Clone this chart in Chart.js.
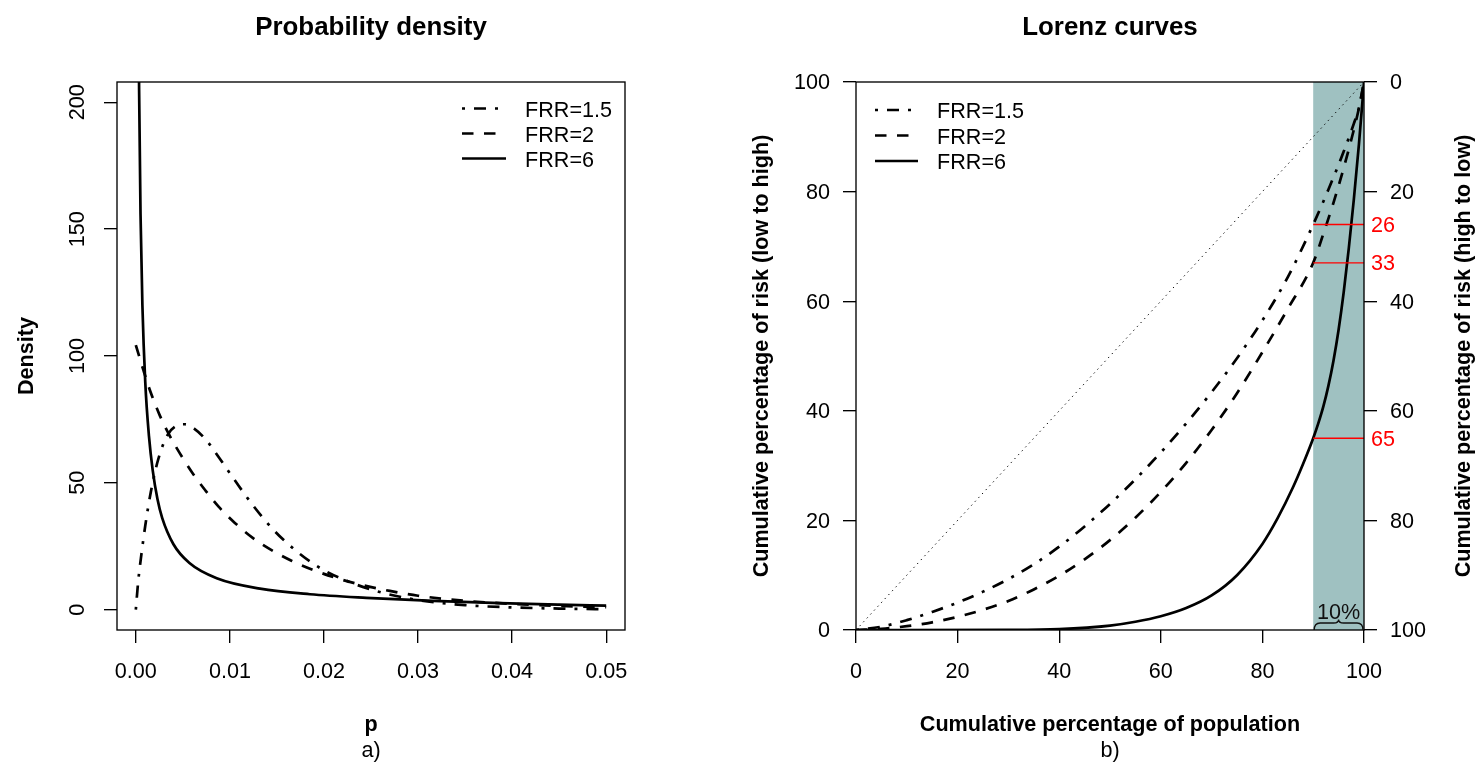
<!DOCTYPE html>
<html lang="en">
<head>
<meta charset="UTF-8">
<title>Probability density / Lorenz curves</title>
<script src="https://cdn.jsdelivr.net/npm/chart.js"></script>
<style>
  body { margin: 0; background: #fff; }
  #wrap { position: relative; width: 1480px; height: 768px; }
  canvas { position: absolute; top: 0; }
</style>
</head>
<body>
<div id="wrap">
  <canvas id="densChart" width="740" height="768" style="left:0"></canvas>
  <canvas id="lorenzChart" width="740" height="768" style="left:740px"></canvas>
</div>
<script>
// ---------- a) probability density (values read off the figure)
const frrLabels = ['FRR=1.5', 'FRR=2', 'FRR=6'];

const p15 = [0, 0.00025, 0.0006, 0.001, 0.0016, 0.0024, 0.0034, 0.0044, 0.0052, 0.0062, 0.0075, 0.0088, 0.0106, 0.0125, 0.0146, 0.0171, 0.0196, 0.022, 0.0255, 0.03, 0.035, 0.04, 0.045, 0.05];
const dens15 = [0, 11, 22, 33, 46.5, 59.5, 69.0, 72.6, 73.1, 71.4, 66.8, 60.2, 50.6, 40.9, 31.6, 23.0, 16.4, 12.0, 7.4, 3.8, 1.8, 0.9, 0.45, 0.2];

const p2 = [0, 0.0008, 0.0015, 0.0025, 0.0035, 0.0047, 0.006, 0.0074, 0.0088, 0.0105, 0.0125, 0.0146, 0.0166, 0.0189, 0.0214, 0.024, 0.027, 0.03, 0.035, 0.04, 0.045, 0.05];
const dens2 = [104.3, 94.5, 86.5, 77.0, 69.3, 61.5, 54.0, 47.0, 40.6, 34.3, 28.1, 23.1, 19.2, 15.6, 12.4, 9.8, 7.4, 5.5, 3.5, 2.3, 1.5, 1.0];

const p6 = [0.0003, 0.00035, 0.0005, 0.0007, 0.001, 0.0014, 0.0018, 0.0023, 0.0028, 0.004, 0.0057, 0.0086, 0.0132, 0.0185, 0.0245, 0.0316, 0.0387, 0.045, 0.05];
const dens6 = [230, 205, 156, 120, 90, 68.3, 54.8, 43.6, 36.2, 25.8, 18.4, 12.4, 8.3, 6.1, 4.7, 3.5, 2.6, 2.0, 1.6];

const densXTicks = [0, 0.01, 0.02, 0.03, 0.04, 0.05];
const densYTicks = [0, 50, 100, 150, 200];

// ---------- b) Lorenz curves
const pop15 = [0, 5, 10, 15, 20, 25, 30, 35, 40, 45, 50, 55, 60, 65, 70, 75, 80, 85, 90, 93, 96, 98, 99, 100];
const risk15 = [0, 0.6, 1.8, 3.3, 5.0, 7.0, 9.3, 12.0, 15.2, 18.9, 23.0, 27.5, 32.4, 37.7, 43.4, 49.6, 56.5, 64.4, 74.0, 80.4, 87.3, 92.4, 95.3, 100];

const pop2 = [0, 5, 10, 15, 20, 25, 30, 35, 40, 45, 50, 55, 60, 65, 70, 75, 80, 85, 90, 92, 94, 96, 98, 99, 100];
const risk2 = [0, 0.2, 0.7, 1.4, 2.4, 3.7, 5.3, 7.4, 9.9, 12.9, 16.4, 20.5, 25.2, 30.5, 36.5, 43.2, 50.7, 58.6, 67.0, 72.3, 78.0, 84.3, 91.3, 95.2, 100];

const pop6 = [0, 30, 40, 50, 55, 60, 65, 70, 75, 80, 83, 86, 88, 90, 91, 92, 93, 94, 95, 96, 97, 98, 99, 100];
const risk6 = [0, 0.02, 0.15, 0.8, 1.5, 2.5, 4.0, 6.3, 10.0, 15.7, 20.4, 26.0, 30.3, 35.0, 37.7, 40.8, 44.6, 49.2, 54.8, 61.6, 69.6, 78.6, 88.6, 100];

const diagX = [0, 100];
const diagY = [0, 100];
const pctTicks = [0, 20, 40, 60, 80, 100];
const topShare = [26, 33, 65];   // share of risk held by the top 10%
const shadeFrom = 90;
const shadeTo = 100;

// ---------- common style
const FONT = '"Liberation Sans", Arial, sans-serif';
const BASE = 21.6;
Chart.defaults.font.family = FONT;
Chart.defaults.font.size = BASE;
Chart.defaults.color = '#000';

const dashes = [[3, 9, 12, 9], [11.5, 10.5], []];

function curve(xs, ys, i) {
  return {
    label: frrLabels[i],
    data: xs.map((x, k) => ({ x: x, y: ys[k] })),
    borderColor: '#000',
    borderWidth: 2.7,
    borderDash: dashes[i],
    pointRadius: 0,
    cubicInterpolationMode: 'monotone',
    fill: false,
    order: 1
  };
}

function axisGrid() {
  return { drawOnChartArea: false, drawTicks: true, tickLength: 13, color: '#000', lineWidth: 1.35 };
}

function rotText(ctx, txt, x, y) {
  ctx.save();
  ctx.translate(x, y);
  ctx.rotate(-Math.PI / 2);
  ctx.fillText(txt, 0, 0);
  ctx.restore();
}

function drawLegend(ctx, x0, x1, tx, rows) {
  ctx.save();
  ctx.strokeStyle = '#000';
  ctx.lineWidth = 2.7;
  ctx.font = BASE + 'px ' + FONT;
  ctx.textAlign = 'left';
  ctx.textBaseline = 'alphabetic';
  frrLabels.forEach((lab, i) => {
    ctx.setLineDash(dashes[i]);
    ctx.beginPath();
    ctx.moveTo(x0, rows[i]);
    ctx.lineTo(x1, rows[i]);
    ctx.stroke();
    ctx.fillText(lab, tx, rows[i] + 8);
  });
  ctx.restore();
}

function frame(ctx, a) {
  ctx.save();
  ctx.strokeStyle = '#000';
  ctx.lineWidth = 1.35;
  ctx.strokeRect(a.left, a.top, a.right - a.left, a.bottom - a.top);
  ctx.restore();
}

function titles(ctx, cx, main, xlab, tag) {
  ctx.save();
  ctx.fillStyle = '#000';
  ctx.textAlign = 'center';
  ctx.textBaseline = 'alphabetic';
  ctx.font = 'bold 25.9px ' + FONT;
  ctx.fillText(main, cx, 35);
  ctx.font = 'bold ' + BASE + 'px ' + FONT;
  ctx.fillText(xlab, cx, 731);
  ctx.font = BASE + 'px ' + FONT;
  ctx.fillText(tag, cx, 757);
  ctx.restore();
}

// ---------- chart a)
const densDecor = {
  id: 'densDecor',
  afterDraw(chart) {
    const { ctx, chartArea: a } = chart;
    frame(ctx, a);
    titles(ctx, (a.left + a.right) / 2, 'Probability density', 'p', 'a)');
    ctx.save();
    ctx.fillStyle = '#000';
    ctx.textAlign = 'center';
    ctx.font = 'bold ' + BASE + 'px ' + FONT;
    rotText(ctx, 'Density', 33, (a.top + a.bottom) / 2);
    ctx.restore();
    drawLegend(ctx, 462, 506, 525, [108.5, 133.5, 158.5]);
  }
};

new Chart(document.getElementById('densChart'), {
  type: 'line',
  data: {
    datasets: [curve(p15, dens15, 0), curve(p2, dens2, 1), curve(p6, dens6, 2)]
  },
  options: {
    responsive: false,
    animation: false,
    devicePixelRatio: 1,
    layout: { padding: { top: 82, right: 115, left: 0, bottom: 0 } },
    plugins: { legend: { display: false }, tooltip: { enabled: false } },
    scales: {
      x: {
        type: 'linear',
        min: -0.002,
        max: 0.052,
        afterBuildTicks: s => { s.ticks = densXTicks.map(v => ({ value: v })); },
        afterFit: s => { s.height = 138; },
        grid: axisGrid(),
        border: { display: false },
        ticks: { autoSkip: false, maxRotation: 0, padding: 16, callback: v => v.toFixed(2) }
      },
      y: {
        type: 'linear',
        min: -8,
        max: 208,
        afterBuildTicks: s => { s.ticks = densYTicks.map(v => ({ value: v })); },
        afterFit: s => { s.width = 117; },
        grid: axisGrid(),
        border: { display: false },
        ticks: { autoSkip: false, minRotation: 90, maxRotation: 90, crossAlign: 'center', padding: 8 }
      }
    }
  },
  plugins: [densDecor]
});

// ---------- chart b)
const lorenzDecor = {
  id: 'lorenzDecor',
  beforeDatasetsDraw(chart) {
    const { ctx, chartArea: a, scales: { x } } = chart;
    const x0 = x.getPixelForValue(shadeFrom);
    const x1 = x.getPixelForValue(shadeTo);
    ctx.save();
    ctx.fillStyle = '#9fc1c1';
    ctx.fillRect(x0, a.top, x1 - x0, a.bottom - a.top);
    ctx.restore();
  },
  afterDraw(chart) {
    const { ctx, chartArea: a, scales: { x, y } } = chart;
    frame(ctx, a);
    titles(ctx, (a.left + a.right) / 2, 'Lorenz curves', 'Cumulative percentage of population', 'b)');
    ctx.save();
    ctx.fillStyle = '#000';
    ctx.textAlign = 'center';
    ctx.font = 'bold ' + BASE + 'px ' + FONT;
    rotText(ctx, 'Cumulative percentage of risk (low to high)', 28, (a.top + a.bottom) / 2);
    rotText(ctx, 'Cumulative percentage of risk (high to low)', 730, (a.top + a.bottom) / 2);

    // red shares of the top 10%
    ctx.fillStyle = '#ff0000';
    ctx.textAlign = 'left';
    ctx.font = BASE + 'px ' + FONT;
    topShare.forEach(s => {
      ctx.fillText(String(s), a.right + 7, y.getPixelForValue(100 - s) + 7.5);
    });

    // brace and 10% label
    const x0 = x.getPixelForValue(shadeFrom);
    const x1 = x.getPixelForValue(shadeTo);
    const xc = (x0 + x1) / 2;
    const yb = a.bottom, ym = a.bottom - 7, yt = a.bottom - 10.5;
    ctx.strokeStyle = '#111';
    ctx.lineWidth = 1.35;
    ctx.beginPath();
    ctx.moveTo(x0 + 1, yb);
    ctx.quadraticCurveTo(x0 + 1, ym, x0 + 7, ym);
    ctx.lineTo(xc - 5, ym);
    ctx.quadraticCurveTo(xc, ym, xc, yt);
    ctx.quadraticCurveTo(xc, ym, xc + 5, ym);
    ctx.lineTo(x1 - 7, ym);
    ctx.quadraticCurveTo(x1 - 1, ym, x1 - 1, yb);
    ctx.stroke();
    ctx.fillStyle = '#111';
    ctx.textAlign = 'center';
    ctx.fillText((shadeTo - shadeFrom) + '%', xc, a.bottom - 11);
    ctx.restore();

    drawLegend(ctx, 135, 178, 197, [110, 135.5, 161]);
  }
};

const redLines = topShare.map(s => ({
  data: [{ x: shadeFrom, y: 100 - s }, { x: shadeTo, y: 100 - s }],
  borderColor: '#ff0000',
  borderWidth: 1.35,
  pointRadius: 0,
  order: 0
}));

new Chart(document.getElementById('lorenzChart'), {
  type: 'line',
  data: {
    datasets: [
      {
        data: diagX.map((v, k) => ({ x: v, y: diagY[k] })),
        borderColor: '#000',
        borderWidth: 1,
        borderDash: [1.3, 4],
        pointRadius: 0,
        order: 2
      },
      curve(pop15, risk15, 0),
      curve(pop2, risk2, 1),
      curve(pop6, risk6, 2),
      ...redLines
    ]
  },
  options: {
    responsive: false,
    animation: false,
    devicePixelRatio: 1,
    layout: { padding: { top: 82, right: 0, left: 0, bottom: 0 } },
    plugins: { legend: { display: false }, tooltip: { enabled: false } },
    scales: {
      x: {
        type: 'linear',
        min: 0,
        max: 100,
        afterBuildTicks: s => { s.ticks = pctTicks.map(v => ({ value: v })); },
        afterFit: s => { s.height = 138; },
        grid: axisGrid(),
        border: { display: false },
        ticks: { autoSkip: false, maxRotation: 0, padding: 16 }
      },
      y: {
        type: 'linear',
        position: 'left',
        min: 0,
        max: 100,
        afterBuildTicks: s => { s.ticks = pctTicks.map(v => ({ value: v })); },
        afterFit: s => { s.width = 116; },
        grid: axisGrid(),
        border: { display: false },
        ticks: { autoSkip: false, padding: 13, labelOffset: 1.5 }
      },
      y2: {
        type: 'linear',
        position: 'right',
        reverse: true,
        min: 0,
        max: 100,
        afterBuildTicks: s => { s.ticks = pctTicks.map(v => ({ value: v })); },
        afterFit: s => { s.width = 116; },
        grid: axisGrid(),
        border: { display: false },
        ticks: { autoSkip: false, padding: 13, labelOffset: 1.5 }
      }
    }
  },
  plugins: [lorenzDecor]
});
</script>
</body>
</html>
